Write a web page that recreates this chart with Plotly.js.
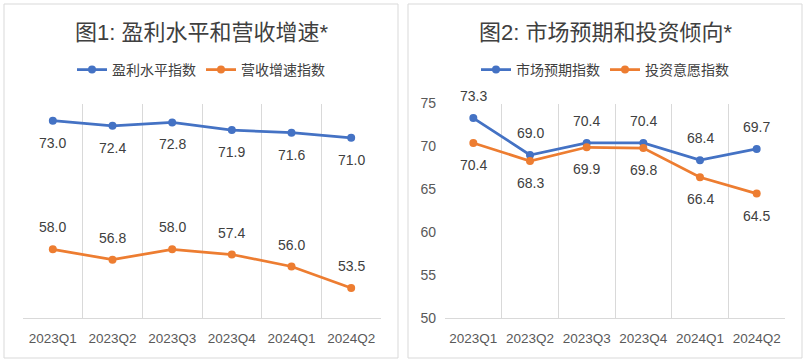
<!DOCTYPE html>
<html>
<head>
<meta charset="utf-8">
<script src="https://cdn.plot.ly/plotly-3.0.1.min.js"></script>
<style>html,body{margin:0;padding:0;background:#fff;}#chart{width:806px;height:362px;}</style>
</head>
<body>
<div id="chart"></div>
<script>
const quarters = ["2023Q1","2023Q2","2023Q3","2023Q4","2024Q1","2024Q2"];
const profitIndex = [73.0, 72.4, 72.8, 71.9, 71.6, 71.0];
const revenueIndex = [58.0, 56.8, 58.0, 57.4, 56.0, 53.5];
const marketIndex = [73.3, 69.0, 70.4, 70.4, 68.4, 69.7];
const investIndex = [70.4, 68.3, 69.9, 69.8, 66.4, 64.5];
const title1 = "图1: 盈利水平和营收增速*";
const title2 = "图2: 市场预期和投资倾向*";
const names1 = ["盈利水平指数", "营收增速指数"];
const names2 = ["市场预期指数", "投资意愿指数"];

const BLUE = "#4472C4", ORANGE = "#ED7D31";
const FONT = "Liberation Sans, Noto Sans CJK SC, sans-serif";
const W = 806, H = 362;
const px = v => v / W, py = v => 1 - v / H;

function series(x, y, name, color, xa, ya, legend) {
  return {x, y, name, type: "scatter", mode: "lines+markers",
    line: {color, width: 2.75}, marker: {color, size: 8},
    xaxis: xa, yaxis: ya, legend, hoverinfo: "skip"};
}
const data = [
  series(quarters, profitIndex, names1[0], BLUE, "x", "y", "legend"),
  series(quarters, revenueIndex, names1[1], ORANGE, "x", "y", "legend"),
  series(quarters, marketIndex, names2[0], BLUE, "x2", "y2", "legend2"),
  series(quarters, investIndex, names2[1], ORANGE, "x2", "y2", "legend2")
];

function labels(y, xref, yref, shift) {
  return y.map((v, i) => ({x: quarters[i], y: v, xref, yref, text: v.toFixed(1),
    showarrow: false, yshift: shift, xanchor: "center", yanchor: "middle",
    font: {size: 14, color: "#404040", family: FONT}}));
}
const annotations = [
  ...labels(profitIndex, "x", "y", -22),
  ...labels(revenueIndex, "x", "y", 22),
  ...labels(marketIndex, "x2", "y2", 22),
  ...labels(investIndex, "x2", "y2", -22),
  {text: title1, x: px(201), y: py(32), xref: "paper", yref: "paper", showarrow: false,
   xanchor: "center", yanchor: "middle", font: {size: 22, color: "#404040", family: FONT}},
  {text: title2, x: px(605), y: py(32), xref: "paper", yref: "paper", showarrow: false,
   xanchor: "center", yanchor: "middle", font: {size: 22, color: "#404040", family: FONT}}
];

const xaxisBase = {type: "category", tickson: "boundaries", showgrid: true, gridcolor: "#d9d9d9",
  gridwidth: 1, showline: true, linecolor: "#d9d9d9", ticks: "", zeroline: false, tickangle: 0,
  ticklabelstandoff: 8,
  tickfont: {size: 13.5, color: "#595959", family: FONT}, range: [-0.5, 5.5], fixedrange: true};

const layout = {
  width: W, height: H, margin: {l: 0, r: 0, t: 0, b: 0},
  paper_bgcolor: "#fff", plot_bgcolor: "#fff",
  font: {family: FONT, color: "#595959"},
  xaxis: Object.assign({}, xaxisBase, {domain: [px(23), px(381)], anchor: "y"}),
  yaxis: {domain: [py(318), py(103.5)], range: [50, 75], visible: false, anchor: "x", fixedrange: true},
  xaxis2: Object.assign({}, xaxisBase, {domain: [px(445), px(785)], anchor: "y2"}),
  yaxis2: {domain: [py(318), py(103.5)], range: [50, 75], dtick: 5, showgrid: false, zeroline: false,
    showline: false, ticks: "", ticklabelstandoff: 8, anchor: "x2", fixedrange: true,
    tickfont: {size: 14, color: "#595959", family: FONT}},
  legend: {orientation: "h", x: px(201), xanchor: "center", y: py(70), yanchor: "middle",
    font: {size: 14, color: "#404040", family: FONT}, bgcolor: "rgba(0,0,0,0)", itemclick: false},
  legend2: {orientation: "h", x: px(605), xanchor: "center", y: py(70), yanchor: "middle",
    font: {size: 14, color: "#404040", family: FONT}, bgcolor: "rgba(0,0,0,0)", itemclick: false},
  shapes: [
    {type: "rect", xref: "paper", yref: "paper", x0: px(4), x1: px(398), y0: py(358), y1: py(4),
     line: {color: "#d9d9d9", width: 1}},
    {type: "rect", xref: "paper", yref: "paper", x0: px(408), x1: px(802), y0: py(358), y1: py(4),
     line: {color: "#d9d9d9", width: 1}}
  ],
  annotations,
  showlegend: true
};

Plotly.newPlot("chart", data, layout, {displayModeBar: false, staticPlot: true});
</script>
</body>
</html>
